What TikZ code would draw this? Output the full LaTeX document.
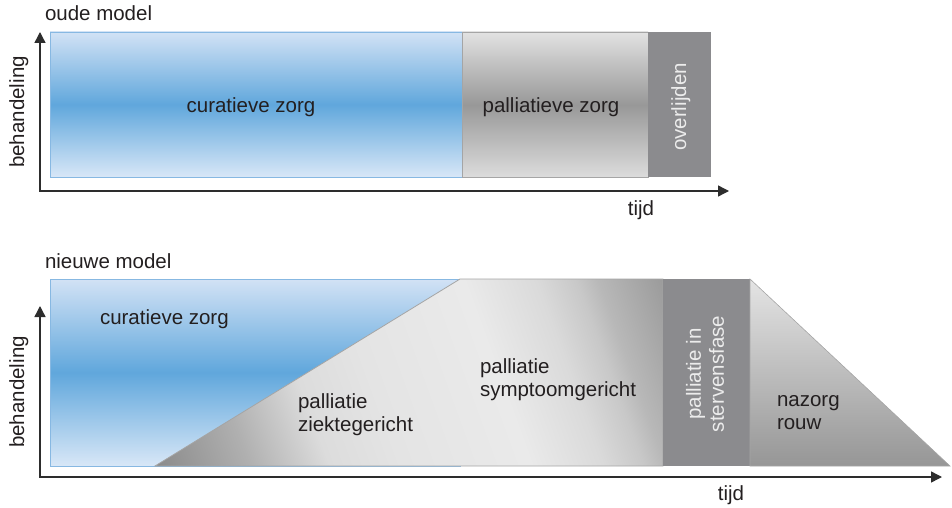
\documentclass[tikz,border=0pt]{standalone}
\usepackage{fontspec}
\setmainfont{Liberation Sans}
\usetikzlibrary{arrows.meta}
\definecolor{bluemid}{RGB}{96,167,220}
\definecolor{bluetop}{RGB}{210,226,245}
\definecolor{bluebot}{RGB}{216,231,247}
\definecolor{blueedge}{RGB}{135,184,226}
\definecolor{graytop}{RGB}{226,226,226}
\definecolor{graymid}{RGB}{152,152,152}
\definecolor{graybot}{RGB}{220,220,220}
\definecolor{grayedge}{RGB}{165,165,165}
\definecolor{darkbox}{RGB}{139,139,142}
\definecolor{boxtext}{RGB}{236,236,236}
\definecolor{ink}{RGB}{35,31,32}
\definecolor{axisc}{RGB}{45,45,45}
\definecolor{triT}{RGB}{228,228,228}
\definecolor{triB}{RGB}{150,150,150}
\pgfdeclarehorizontalshading{graybandabs}{320bp}{%
  rgb(0bp)=(0.525,0.525,0.525); rgb(26bp)=(0.541,0.541,0.541); rgb(115bp)=(0.69,0.69,0.69);
  rgb(190bp)=(0.863,0.863,0.863); rgb(258bp)=(0.894,0.894,0.894); rgb(378bp)=(0.918,0.918,0.918);
  rgb(446bp)=(0.855,0.855,0.855); rgb(484bp)=(0.784,0.784,0.784); rgb(504bp)=(0.722,0.722,0.722);
  rgb(567bp)=(0.604,0.604,0.604); rgb(620bp)=(0.588,0.588,0.588)}
\tikzset{
  lbl/.style={font=\fontsize{20.5}{23}\selectfont, text=ink, inner sep=0pt, outer sep=0pt},
  whitelbl/.style={lbl, text=boxtext},
  axisline/.style={draw=axisc, line width=1.4pt, {Triangle[length=11pt,width=11pt]}-{Triangle[length=11pt,width=11pt]}},
  bluebox/.style={top color=bluetop, bottom color=bluebot, middle color=bluemid, draw=blueedge, line width=0.8pt, inner sep=0pt, outer sep=0pt},
  graybox/.style={top color=graytop, bottom color=graybot, middle color=graymid, draw=grayedge, line width=0.8pt, inner sep=0pt, outer sep=0pt},
  darkrect/.style={fill=darkbox, inner sep=0pt, outer sep=0pt},
  edgeline/.style={draw=grayedge, line width=0.8pt},
}
\begin{document}
\begin{tikzpicture}[x=1pt,y=-1pt]
\useasboundingbox (0,0) rectangle (952,508);
% ---------- oude model ----------
\node[lbl, anchor=base west] (t1) at (45,21) {oude model};
\node[bluebox, minimum width=412pt, minimum height=145pt, anchor=north west] (cur1) at (50,32) {};
\node[graybox, minimum width=186pt, minimum height=145pt, anchor=north west] (pal1) at (462,32) {};
\node[darkrect, minimum width=63pt, minimum height=145pt, anchor=north west] (ovr) at (648,32) {};
\node[lbl, anchor=base] (cz1) at (251,113) {curatieve zorg};
\node[lbl, anchor=base] (pz1) at (551,113) {palliatieve zorg};
\node[whitelbl, rotate=90, anchor=base] (ov) at (686,107) {overlijden};
\coordinate (ya1) at (40,32);
\coordinate (xa1) at (729,191);
\draw[axisline] (ya1) |- (xa1);
\node[lbl, rotate=90, anchor=base] (beh1) at (24,112) {behandeling};
\node[lbl, anchor=base] (tijd1) at (641,215) {tijd};
% ---------- nieuwe model ----------
\node[lbl, anchor=base west] (t2) at (45,268) {nieuwe model};
\node[bluebox, minimum width=410pt, minimum height=187pt, anchor=north west] (cur2) at (50,279) {};
\coordinate (p1) at (155,466);
\coordinate (p2) at (460,279);
\coordinate (p3) at (663,279);
\coordinate (p4) at (663,466);
\begin{scope}
  \clip (p1) -- (p2) -- (p3) -- (p4) -- cycle;
  \pgftext[left,bottom,at={\pgfpoint{195pt}{-652.7pt}},rotate=20]{\pgfuseshading{graybandabs}}
\end{scope}
\draw[edgeline] (p1) -- (p2) -- (p3) -- (p4) -- cycle;
\node[darkrect, minimum width=87pt, minimum height=187pt, anchor=north west] (stf) at (663,279) {};
\coordinate (q1) at (750,279);
\coordinate (q2) at (950,466);
\coordinate (q3) at (750,466);
\path[top color=triT, bottom color=triB, draw=grayedge, line width=0.6pt] (q1) -- (q2) -- (q3) -- cycle;
\node[lbl, anchor=base west] (cz2) at (100,324) {curatieve zorg};
\node[lbl, anchor=west, align=left] (pzg) at (298,415) {palliatie\\ziektegericht};
\node[lbl, anchor=west, align=left] (psg) at (480,380) {palliatie\\symptoomgericht};
\node[whitelbl, rotate=90, align=center] (pst) at (705,374) {palliatie in\\stervensfase};
\node[lbl, anchor=west, align=left] (nzr) at (777,413) {nazorg\\rouw};
\coordinate (ya2) at (40,306);
\coordinate (xa2) at (942,477);
\draw[axisline] (ya2) |- (xa2);
\node[lbl, rotate=90, anchor=base] (beh2) at (24,392) {behandeling};
\node[lbl, anchor=base] (tijd2) at (731,500) {tijd};
\end{tikzpicture}
\end{document}
